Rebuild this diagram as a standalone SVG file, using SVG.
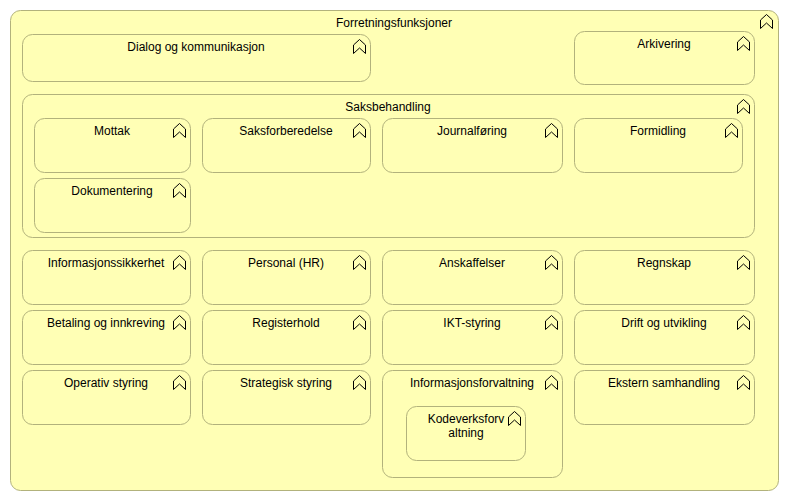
<svg xmlns="http://www.w3.org/2000/svg" xmlns:xlink="http://www.w3.org/1999/xlink" width="789" height="501" viewBox="0 0 789 501">
<style>
.n{fill:#ffffb5;stroke:#b2b27c;stroke-width:1}
.t{font-family:"Liberation Sans",Arial,sans-serif;font-size:12px;fill:#000;text-anchor:middle}
.i{fill:none;stroke:#000;stroke-width:1}
</style>
<defs>
<path id="fn" class="i" d="M0.5,6 L6.5,0.5 L12.5,6 L12.5,14.5 L6.5,9 L0.5,14.5 Z"/>
</defs>
<rect width="789" height="501" fill="#ffffff"/>
<g id="forretningsfunksjoner">
<rect class="n" x="10.5" y="10.5" width="768" height="480" rx="10"/>
<text class="t" x="394" y="27">Forretningsfunksjoner</text>
<use xlink:href="#fn" x="760" y="14"/>
</g>
<g id="dialog">
<rect class="n" x="22.5" y="34.5" width="348" height="47" rx="10"/>
<text class="t" x="196" y="51">Dialog og kommunikasjon</text>
<use xlink:href="#fn" x="353" y="39"/>
</g>
<g id="arkivering">
<rect class="n" x="574.5" y="31.5" width="180" height="53" rx="10"/>
<text class="t" x="664" y="48">Arkivering</text>
<use xlink:href="#fn" x="737" y="36"/>
</g>
<g id="saksbehandling">
<rect class="n" x="22.5" y="94.5" width="732" height="143" rx="10"/>
<text class="t" x="388" y="111">Saksbehandling</text>
<use xlink:href="#fn" x="737" y="99"/>
</g>
<g id="mottak">
<rect class="n" x="34.5" y="118.5" width="156" height="54" rx="10"/>
<text class="t" x="112" y="135">Mottak</text>
<use xlink:href="#fn" x="173" y="123"/>
</g>
<g id="saksforberedelse">
<rect class="n" x="202.5" y="118.5" width="168" height="54" rx="10"/>
<text class="t" x="286" y="135">Saksforberedelse</text>
<use xlink:href="#fn" x="353" y="123"/>
</g>
<g id="journalforing">
<rect class="n" x="382.5" y="118.5" width="180" height="54" rx="10"/>
<text class="t" x="472" y="135">Journalføring</text>
<use xlink:href="#fn" x="545" y="123"/>
</g>
<g id="formidling">
<rect class="n" x="574.5" y="118.5" width="168" height="54" rx="10"/>
<text class="t" x="658" y="135">Formidling</text>
<use xlink:href="#fn" x="725" y="123"/>
</g>
<g id="dokumentering">
<rect class="n" x="34.5" y="178.5" width="156" height="54" rx="10"/>
<text class="t" x="112" y="195">Dokumentering</text>
<use xlink:href="#fn" x="173" y="183"/>
</g>
<g id="informasjonssikkerhet">
<rect class="n" x="22.5" y="250.5" width="168" height="54" rx="10"/>
<text class="t" x="106" y="267">Informasjonssikkerhet</text>
<use xlink:href="#fn" x="173" y="255"/>
</g>
<g id="personal">
<rect class="n" x="202.5" y="250.5" width="168" height="54" rx="10"/>
<text class="t" x="286" y="267">Personal (HR)</text>
<use xlink:href="#fn" x="353" y="255"/>
</g>
<g id="anskaffelser">
<rect class="n" x="382.5" y="250.5" width="180" height="54" rx="10"/>
<text class="t" x="472" y="267">Anskaffelser</text>
<use xlink:href="#fn" x="545" y="255"/>
</g>
<g id="regnskap">
<rect class="n" x="574.5" y="250.5" width="180" height="54" rx="10"/>
<text class="t" x="664" y="267">Regnskap</text>
<use xlink:href="#fn" x="737" y="255"/>
</g>
<g id="betaling">
<rect class="n" x="22.5" y="310.5" width="168" height="54" rx="10"/>
<text class="t" x="106" y="327">Betaling og innkreving</text>
<use xlink:href="#fn" x="173" y="315"/>
</g>
<g id="registerhold">
<rect class="n" x="202.5" y="310.5" width="168" height="54" rx="10"/>
<text class="t" x="286" y="327">Registerhold</text>
<use xlink:href="#fn" x="353" y="315"/>
</g>
<g id="ikt-styring">
<rect class="n" x="382.5" y="310.5" width="180" height="54" rx="10"/>
<text class="t" x="472" y="327">IKT-styring</text>
<use xlink:href="#fn" x="545" y="315"/>
</g>
<g id="drift">
<rect class="n" x="574.5" y="310.5" width="180" height="54" rx="10"/>
<text class="t" x="664" y="327">Drift og utvikling</text>
<use xlink:href="#fn" x="737" y="315"/>
</g>
<g id="operativ">
<rect class="n" x="22.5" y="370.5" width="168" height="54" rx="10"/>
<text class="t" x="106" y="387">Operativ styring</text>
<use xlink:href="#fn" x="173" y="375"/>
</g>
<g id="strategisk">
<rect class="n" x="202.5" y="370.5" width="168" height="54" rx="10"/>
<text class="t" x="286" y="387">Strategisk styring</text>
<use xlink:href="#fn" x="353" y="375"/>
</g>
<g id="informasjonsforvaltning">
<rect class="n" x="382.5" y="370.5" width="180" height="107" rx="10"/>
<text class="t" x="472" y="387">Informasjonsforvaltning</text>
<use xlink:href="#fn" x="545" y="375"/>
</g>
<g id="kodeverksforvaltning">
<rect class="n" x="406.5" y="406.5" width="119" height="54" rx="10"/>
<text class="t" x="466" y="423">Kodeverksforv</text>
<text class="t" x="466" y="437">altning</text>
<use xlink:href="#fn" x="508" y="411"/>
</g>
<g id="ekstern">
<rect class="n" x="574.5" y="370.5" width="180" height="54" rx="10"/>
<text class="t" x="664" y="387">Ekstern samhandling</text>
<use xlink:href="#fn" x="737" y="375"/>
</g>
<g id="connectors"/>
</svg>
